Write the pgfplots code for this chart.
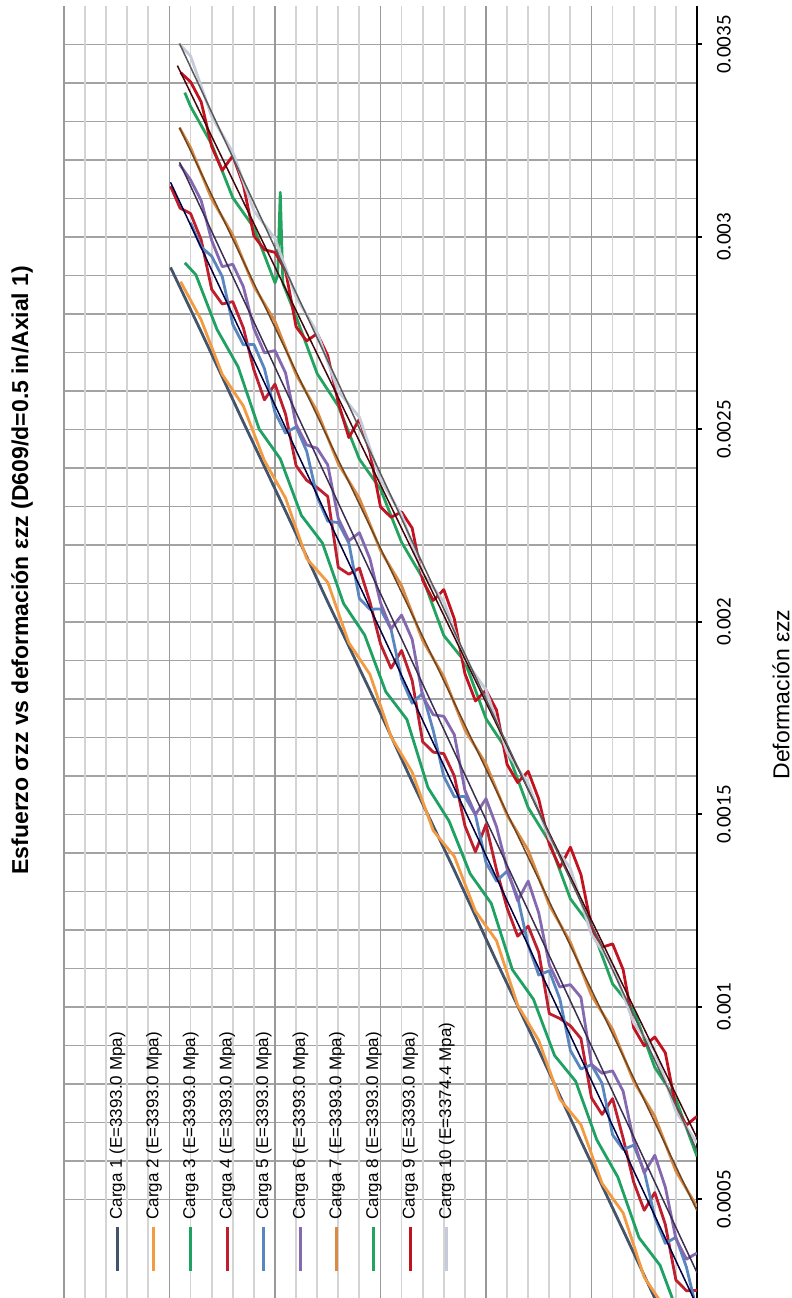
\documentclass[border=0pt]{standalone}
\usepackage{graphicx}
\usepackage{fontspec}
\setmainfont{Liberation Sans}
\newfontfamily\tickfont{Carlito}
\usepackage{pgfplots}
\pgfplotsset{compat=1.18}
\definecolor{c1}{HTML}{44546A}
\definecolor{c2}{HTML}{F29B43}
\definecolor{c3}{HTML}{1FA163}
\definecolor{c4}{HTML}{BE1E2D}
\definecolor{c5}{HTML}{5A86C0}
\definecolor{c6}{HTML}{8468B0}
\definecolor{c7}{HTML}{D98A45}
\definecolor{c8}{HTML}{22A35E}
\definecolor{c9}{HTML}{C3121F}
\definecolor{c10}{HTML}{C5CBD8}
\pgfplotsset{dat/.style={line width=1.4pt, line join=round},
             fit/.style={line width=0.75pt, forget plot}}
\begin{document}
\rotatebox{90}{%
\begin{tikzpicture}
\path[use as bounding box] (0,0) rectangle (649pt,396pt);
\begin{axis}[
    scale only axis, width=654.5pt, height=316.5pt,
    at={(646pt,47.5pt)}, anchor=south east,
    xmin=0.0002, xmax=0.0036, ymin=0, ymax=12,
    axis x line*=bottom, axis y line*=left,
    axis line style={line width=1pt, black, -},
    xtick={0.0005,0.001,0.0015,0.002,0.0025,0.003,0.0035},
    xticklabels={0.0005,0.001,0.0015,0.002,0.0025,0.003,0.0035},
    scaled x ticks=false,
    ytick={0,2,...,12}, yticklabels={},
    minor x tick num=4, minor y tick num=4,
    xmajorgrids, xminorgrids, ymajorgrids, yminorgrids,
    major x grid style={color=black!36, line width=0.6pt},
    minor x grid style={color=black!36, line width=0.6pt},
    major y grid style={color=black!40, line width=0.6pt},
    minor y grid style={color=black!17, line width=0.9pt},
    tick align=outside, major tick length=2.5pt, minor tick length=0pt,
    xtick style={black, line width=1pt}, ytick style={draw=none},
    xticklabel style={font=\tickfont\fontsize{10.5}{12}\selectfont, anchor=center, yshift=-11pt},
    title={\bfseries Esfuerzo σzz vs deformación εzz (D609/d=0.5 in/Axial 1)},
    title style={font=\fontsize{11.5}{14}\selectfont, at={(axis description cs:0.569,1)}, anchor=center, yshift=15pt},
    xlabel={Deformación εzz},
    xlabel style={font=\fontsize{11.5}{14}\selectfont, at={(axis description cs:0.474,0)}, anchor=center, yshift=-42pt},
    legend style={at={(axis cs:0.00031,11.15)}, anchor=north west, draw=none, fill=none,
        font=\fontsize{8.5}{10}\selectfont, inner sep=0pt, outer sep=0pt,
        nodes={inner sep=0pt, text height=6.5pt, text depth=2pt}, row sep=9.8pt, column sep=3pt},
    legend cell align=left,
    legend image code/.code={\draw[#1, line width=1.5pt] (0pt,0pt) -- (22pt,0pt);},
]
% Carga 1
\addplot[dat, c1] coordinates {(0.000185,0.6) (0.000420,1.4) (0.000652,2.2) (0.000888,3.0) (0.001118,3.8) (0.001355,4.6) (0.001585,5.4) (0.001822,6.2) (0.002052,7.0) (0.002288,7.8) (0.002519,8.6) (0.002754,9.4) (0.002921,9.98)};
% Carga 2
\addplot[dat, c2] coordinates {(0.000216,0.6) (0.000298,1.0) (0.000465,1.4) (0.000542,1.8) (0.000694,2.2) (0.000761,2.6) (0.000913,3.0) (0.001005,3.4) (0.001172,3.8) (0.001249,4.2) (0.001391,4.6) (0.001458,5.0) (0.001610,5.4) (0.001702,5.8) (0.001864,6.2) (0.001946,6.6) (0.002103,7.0) (0.002165,7.4) (0.002322,7.8) (0.002419,8.2) (0.002561,8.6) (0.002643,9.0) (0.002785,9.4) (0.002884,9.79)};
% Carga 3
\addplot[dat, c3] coordinates {(0.000182,0.3) (0.000329,0.7) (0.000401,1.1) (0.000558,1.5) (0.000655,1.9) (0.000807,2.3) (0.000874,2.7) (0.001020,3.1) (0.001097,3.5) (0.001269,3.9) (0.001346,4.3) (0.001483,4.7) (0.001570,5.1) (0.001747,5.5) (0.001819,5.9) (0.001966,6.3) (0.002048,6.7) (0.002205,7.1) (0.002277,7.5) (0.002424,7.9) (0.002501,8.3) (0.002663,8.7) (0.002760,9.1) (0.002902,9.5) (0.002933,9.71)};
% Carga 4
\addplot[dat, c4] coordinates {(0.000264,0) (0.000263,0.2) (0.000291,0.4) (0.000435,0.6) (0.000518,0.8) (0.000472,1.0) (0.000545,1.2) (0.000659,1.4) (0.000762,1.6) (0.000721,1.8) (0.000764,2.0) (0.000918,2.2) (0.000951,2.4) (0.000970,2.6) (0.000983,2.8) (0.001142,3.0) (0.001210,3.2) (0.001184,3.4) (0.001257,3.6) (0.001356,3.8) (0.001474,4.0) (0.001403,4.2) (0.001471,4.4) (0.001600,4.6) (0.001658,4.8) (0.001662,5.0) (0.001689,5.2) (0.001848,5.4) (0.001926,5.6) (0.001880,5.8) (0.001943,6.0) (0.002052,6.2) (0.002140,6.4) (0.002124,6.6) (0.002142,6.8) (0.002326,7.0) (0.002349,7.2) (0.002368,7.4) (0.002406,7.6) (0.002540,7.8) (0.002618,8.0) (0.002577,8.2) (0.002655,8.4) (0.002764,8.6) (0.002832,8.8) (0.002826,9.0) (0.002864,9.2) (0.002993,9.4) (0.003061,9.6) (0.003075,9.8) (0.003132,9.98)};
% Carga 5
\addplot[dat, c5] coordinates {(0.000210,0) (0.000324,0.2) (0.000402,0.4) (0.000386,0.6) (0.000454,0.8) (0.000573,1.0) (0.000641,1.2) (0.000630,1.4) (0.000668,1.6) (0.000802,1.8) (0.000850,2.0) (0.000839,2.2) (0.000887,2.4) (0.001021,2.6) (0.001094,2.8) (0.001083,3.0) (0.001161,3.2) (0.001285,3.4) (0.001353,3.6) (0.001327,3.8) (0.001375,4.0) (0.001499,4.2) (0.001547,4.4) (0.001546,4.6) (0.001599,4.8) (0.001718,5.0) (0.001815,5.2) (0.001789,5.4) (0.001852,5.6) (0.001981,5.8) (0.002034,6.0) (0.002033,6.2) (0.002061,6.4) (0.002205,6.6) (0.002258,6.8) (0.002262,7.0) (0.002325,7.2) (0.002444,7.4) (0.002507,7.6) (0.002491,7.8) (0.002544,8.0) (0.002658,8.2) (0.002721,8.4) (0.002720,8.6) (0.002773,8.8) (0.002897,9.0) (0.002950,9.2) (0.002974,9.4) (0.003037,9.6)};
% Carga 6
\addplot[dat, c6] coordinates {(0.000361,0) (0.000345,0.2) (0.000398,0.4) (0.000532,0.6) (0.000615,0.8) (0.000569,1.0) (0.000652,1.2) (0.000781,1.4) (0.000834,1.6) (0.000828,1.8) (0.000851,2.0) (0.001025,2.2) (0.001058,2.4) (0.001052,2.6) (0.001110,2.8) (0.001244,3.0) (0.001327,3.2) (0.001276,3.4) (0.001359,3.6) (0.001468,3.8) (0.001541,4.0) (0.001500,4.2) (0.001563,4.4) (0.001707,4.6) (0.001755,4.8) (0.001759,5.0) (0.001806,5.2) (0.001955,5.4) (0.002018,5.6) (0.001982,5.8) (0.002050,6.0) (0.002164,6.2) (0.002232,6.4) (0.002211,6.6) (0.002269,6.8) (0.002408,7.0) (0.002451,7.2) (0.002460,7.4) (0.002513,7.6) (0.002647,7.8) (0.002705,8.0) (0.002699,8.2) (0.002762,8.4) (0.002871,8.6) (0.002929,8.8) (0.002923,9.0) (0.002991,9.2) (0.003095,9.4) (0.003148,9.6) (0.003189,9.81)};
% Carga 7
\addplot[dat, c7] coordinates {(0.000481,0) (0.000574,0.4) (0.000716,0.8) (0.000807,1.2) (0.000942,1.6) (0.001030,2.0) (0.001168,2.4) (0.001265,2.8) (0.001407,3.2) (0.001498,3.6) (0.001631,4.0) (0.001720,4.4) (0.001858,4.8) (0.001952,5.2) (0.002094,5.6) (0.002186,6.0) (0.002321,6.4) (0.002411,6.8) (0.002547,7.2) (0.002643,7.6) (0.002781,8.0) (0.002872,8.4) (0.003005,8.8) (0.003099,9.2) (0.003232,9.6) (0.003284,9.81)};
% Carga 8
\addplot[dat, c8] coordinates {(0.000612,0) (0.000760,0.4) (0.000843,0.8) (0.000992,1.2) (0.001060,1.6) (0.001208,2.0) (0.001281,2.4) (0.001429,2.8) (0.001518,3.2) (0.001666,3.6) (0.001749,4.0) (0.001897,4.4) (0.001965,4.8) (0.002114,5.2) (0.002207,5.6) (0.002345,6.0) (0.002423,6.4) (0.002561,6.8) (0.002645,7.2) (0.002793,7.6) (0.002880,7.85) (0.003116,7.9) (0.002900,7.95) (0.002881,8.0) (0.003024,8.4) (0.003102,8.8) (0.003241,9.2) (0.003339,9.6) (0.003375,9.71)};
% Carga 9
\addplot[dat, c9] coordinates {(0.000716,0) (0.000693,0.2) (0.000739,0.4) (0.000881,0.6) (0.000922,0.8) (0.000899,1.0) (0.000946,1.2) (0.001097,1.4) (0.001164,1.6) (0.001155,1.8) (0.001207,2.0) (0.001344,2.2) (0.001415,2.4) (0.001362,2.6) (0.001423,2.8) (0.001540,3.0) (0.001612,3.2) (0.001583,3.4) (0.001630,3.6) (0.001771,3.8) (0.001823,4.0) (0.001795,4.2) (0.001866,4.4) (0.002008,4.6) (0.002084,4.8) (0.002056,5.0) (0.002108,5.2) (0.002244,5.4) (0.002286,5.6) (0.002272,5.8) (0.002299,6.0) (0.002441,6.2) (0.002527,6.4) (0.002479,6.6) (0.002570,6.8) (0.002692,7.0) (0.002749,7.2) (0.002730,7.4) (0.002767,7.6) (0.002913,7.8) (0.002960,8.0) (0.002967,8.2) (0.003003,8.4) (0.003135,8.6) (0.003211,8.8) (0.003173,9.0) (0.003235,9.2) (0.003351,9.4) (0.003403,9.6) (0.003427,9.79)};
% Carga 10
\addplot[dat, c10] coordinates {(0.000647,0) (0.000729,0.4) (0.000886,0.8) (0.000959,1.2) (0.001106,1.6) (0.001188,2.0) (0.001360,2.4) (0.001437,2.8) (0.001580,3.2) (0.001662,3.6) (0.001824,4.0) (0.001901,4.4) (0.002053,4.8) (0.002126,5.2) (0.002278,5.6) (0.002370,6.0) (0.002532,6.4) (0.002599,6.8) (0.002752,7.2) (0.002844,7.6) (0.002996,8.0) (0.003068,8.4) (0.003220,8.8) (0.003313,9.2) (0.003470,9.6) (0.003501,9.81)};
% linear fits
\addplot[fit, color=black!75!blue] coordinates {(0.000224,0) (0.003142,9.98)};
\addplot[fit, color=black!55!c6] coordinates {(0.000310,0) (0.003194,9.81)};
\addplot[fit, color=black!50!c7] coordinates {(0.000471,0) (0.003284,9.81)};
\addplot[fit, color=black!65!c9] coordinates {(0.000660,0) (0.003445,9.85)};
\addplot[fit, color=black!65] coordinates {(0.000627,0) (0.0035026,9.81)};
\legend{Carga 1 (E=3393.0 Mpa), Carga 2 (E=3393.0 Mpa), Carga 3 (E=3393.0 Mpa), Carga 4 (E=3393.0 Mpa), Carga 5 (E=3393.0 Mpa), Carga 6 (E=3393.0 Mpa), Carga 7 (E=3393.0 Mpa), Carga 8 (E=3393.0 Mpa), Carga 9 (E=3393.0 Mpa), Carga 10 (E=3374.4 Mpa)}
\end{axis}
\end{tikzpicture}}
\end{document}
